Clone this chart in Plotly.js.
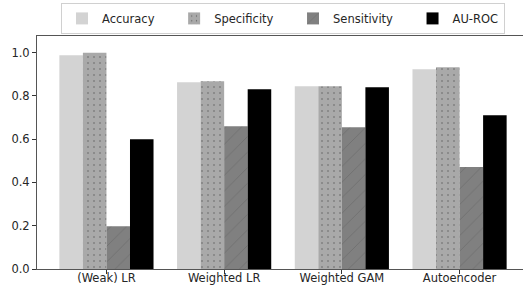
<!DOCTYPE html>
<html>
<head>
<meta charset="utf-8">
<script src="https://cdn.plot.ly/plotly-3.0.1.min.js"></script>
<style>
html, body { margin: 0; padding: 0; overflow: hidden; background: #fff; }
#chart { width: 530px; height: 286px; }
</style>
</head>
<body>
<div id="chart"></div>
<script>
const categories = ["(Weak) LR", "Weighted LR", "Weighted GAM", "Autoencoder"];
const accuracy    = [0.988, 0.863, 0.845, 0.923];
const specificity = [1.000, 0.868, 0.845, 0.932];
const sensitivity = [0.198, 0.660, 0.655, 0.471];
const auroc       = [0.600, 0.831, 0.840, 0.711];
const seriesNames = ["Accuracy", "Specificity", "Sensitivity", "AU-ROC"];
const yTicks = [0, 0.2, 0.4, 0.6, 0.8, 1.0];
const yTickText = ["0.0", "0.2", "0.4", "0.6", "0.8", "1.0"];

const xIdx = categories.map((_, i) => i);
// trailing non-breaking spaces widen the legend entries like the reference
const pad = "\u00a0\u00a0\u00a0\u00a0";

const traces = [
  {
    type: "bar", name: seriesNames[0] + pad, x: xIdx, y: accuracy,
    marker: { color: "#d3d3d3", line: { width: 0 } }
  },
  {
    type: "bar", name: seriesNames[1] + pad, x: xIdx, y: specificity,
    marker: { color: "#a9a9a9", line: { width: 0 },
      pattern: { shape: ".", fgcolor: "#111111", bgcolor: "#a9a9a9", size: 6, solidity: 0.05, fillmode: "overlay" } }
  },
  {
    type: "bar", name: seriesNames[2] + pad, x: xIdx, y: sensitivity,
    marker: { color: "#808080", line: { width: 0 },
      pattern: { shape: "/", fgcolor: "#5e5e5e", bgcolor: "#808080", size: 11, solidity: 0.08, fillmode: "overlay" } }
  },
  {
    type: "bar", name: seriesNames[3], x: xIdx, y: auroc,
    marker: { color: "#000000", line: { width: 0 } }
  }
];

const layout = {
  width: 530, height: 286,
  margin: { l: 37, r: 1, t: 36, b: 17, pad: 0 },
  paper_bgcolor: "#ffffff", plot_bgcolor: "#ffffff",
  font: { family: "DejaVu Sans", size: 11.5, color: "#262626" },
  barmode: "group", bargap: 0.2, bargroupgap: 0,
  showlegend: true,
  legend: {
    orientation: "h", x: 0.5, xanchor: "center", y: 1.142, yanchor: "top",
    bordercolor: "#d0d0d0", borderwidth: 1, bgcolor: "#ffffff",
    font: { family: "DejaVu Sans", size: 11.5, color: "#262626" },
    traceorder: "normal"
  },
  xaxis: {
    range: [-0.59, 3.59], tickmode: "array", tickvals: xIdx, ticktext: categories,
    showgrid: false, zeroline: false, showline: true, linecolor: "#555555", linewidth: 1, mirror: true,
    ticks: "outside", ticklen: 4, tickwidth: 1, tickcolor: "#333333", ticklabelstandoff: -6, fixedrange: true
  },
  yaxis: {
    range: [0, 1.077], tickmode: "array", tickvals: yTicks, ticktext: yTickText,
    showgrid: false, zeroline: false, showline: true, linecolor: "#555555", linewidth: 1, mirror: true,
    ticks: "outside", ticklen: 4, tickwidth: 1, tickcolor: "#333333", fixedrange: true
  }
};

Plotly.newPlot("chart", traces, layout, { displayModeBar: false, staticPlot: true });
</script>
</body>
</html>
